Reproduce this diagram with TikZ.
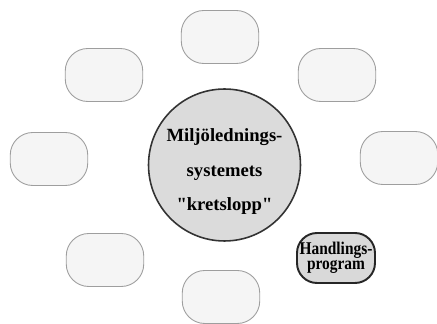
\documentclass[tikz,border=0pt]{standalone}
\usepackage{fontspec}
\setmainfont{Liberation Serif}[Ligatures=TeXOff]
\newfontfamily\narrowserif{Liberation Serif}[Ligatures=TeXOff, FakeStretch=0.86]
\usepackage{tikz}
\usetikzlibrary{positioning}

\begin{document}
\begin{tikzpicture}[
  x=0.02cm, y=-0.02cm,
  blank/.style={draw=black!38, line width=0.5pt, fill=black!4,
                rounded corners=0.45cm, minimum width=1.55cm,
                minimum height=1.06cm, inner sep=0pt},
  core/.style={circle, draw=black!80, line width=0.9pt, fill=black!14,
               minimum size=3.04cm, inner sep=0pt},
  coretext/.style={align=center, inner sep=0pt,
                   font=\fontsize{10.6}{19.5}\selectfont\bfseries},
  plan/.style={draw=black!85, line width=1.1pt, fill=black!15,
               rounded corners=0.4cm, minimum width=1.56cm,
               minimum height=1.0cm, inner sep=0pt, align=center,
               font=\narrowserif\fontsize{10.2}{8.8}\selectfont\bfseries},
]
\useasboundingbox (0,0) rectangle (437,324);

% cycle in the middle
\node[core] (cycle) at (224.5,165) {};
\node[coretext, below=-0.73cm of cycle.center] (cycletext)
  {Miljöled\-nings-\\systemets\\"kretslopp"};

% empty steps around it
\node[blank] (top)      at (220,37)  {};
\node[blank] (topleft)  at (104,75)  {};
\node[blank] (topright) at (337,75)  {};
\node[blank] (left)     at (49,159)  {};
\node[blank] (right)    at (399,158) {};
\node[blank] (botleft)  at (105,260) {};
\node[blank] (bottom)   at (221,297) {};

\node[plan] (program) at (336,258) {Handlings-\\program};
\end{tikzpicture}
\end{document}
